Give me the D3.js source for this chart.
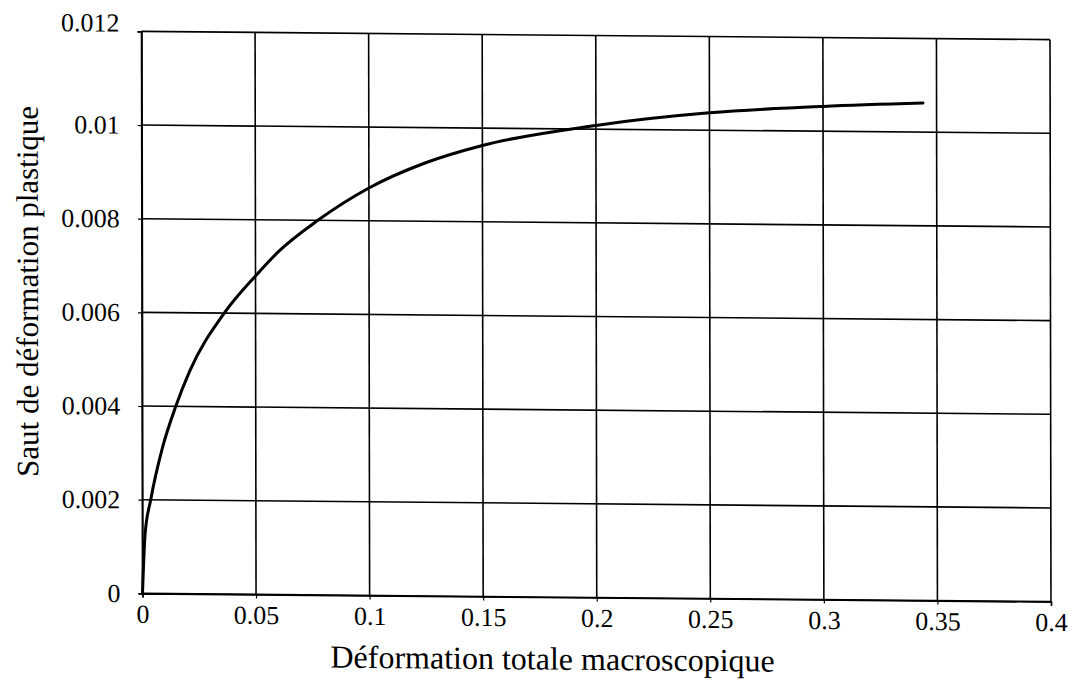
<!DOCTYPE html>
<html>
<head>
<meta charset="utf-8">
<script src="https://cdn.jsdelivr.net/npm/d3@7"></script>
<style>
  html, body { margin: 0; padding: 0; background: #fff; }
  svg { display: block; }
  text { font-family: "Liberation Serif", "Times New Roman", serif; fill: #000; }
</style>
</head>
<body>
<svg id="chart" width="1068" height="690"></svg>
<script>
// ---- Data ----
const xTickValues = [0, 0.05, 0.1, 0.15, 0.2, 0.25, 0.3, 0.35, 0.4];
const yTickValues = [0, 0.002, 0.004, 0.006, 0.008, 0.01, 0.012];
const xTickLabels = ["0", "0.05", "0.1", "0.15", "0.2", "0.25", "0.3", "0.35", "0.4"];
const yTickLabels = ["0", "0.002", "0.004", "0.006", "0.008", "0.01", "0.012"];
const totalStrain  = [0, 0.0012, 0.0037, 0.009, 0.0148, 0.021, 0.0362, 0.05, 0.0607, 0.0775, 0.1, 0.125, 0.15, 0.2, 0.25, 0.3, 0.344];
const plasticJump  = [0, 0.00127, 0.002, 0.00313, 0.004, 0.00476, 0.006, 0.0068, 0.00735, 0.008, 0.0087, 0.00925, 0.00963, 0.01008, 0.01037, 0.01053, 0.01062];
const xTitle = "Déformation totale macroscopique";
const yTitle = "Saut de déformation plastique";

// ---- Layout ----
const svg = d3.select("#chart");
const plot = { left: 142, right: 1050.5, top: 35.5, bottom: 597.5 };
const cx = (plot.left + plot.right) / 2, cy = (plot.top + plot.bottom) / 2;

const root = svg.append("g")
  .attr("transform", `translate(${cx},${cy}) skewY(0.62) rotate(-0.1) translate(${-cx},${-cy})`);

const x = d3.scaleLinear().domain([0, 0.4]).range([plot.left, plot.right]);
const y = d3.scaleLinear().domain([0, 0.012]).range([plot.bottom, plot.top]);

// Grid lines
root.append("g").selectAll("line.v").data(xTickValues).join("line")
  .attr("x1", d => x(d)).attr("x2", d => x(d))
  .attr("y1", plot.top).attr("y2", plot.bottom)
  .attr("stroke", "#000").attr("stroke-width", 1.6);
root.append("g").selectAll("line.h").data(yTickValues).join("line")
  .attr("x1", plot.left).attr("x2", plot.right)
  .attr("y1", d => y(d)).attr("y2", d => y(d))
  .attr("stroke", "#000").attr("stroke-width", 1.6);

// Axes (ticks + labels)
const xAxis = d3.axisBottom(x).tickValues(xTickValues)
  .tickFormat((d, i) => xTickLabels[i]).tickSize(4).tickPadding(7);
const yAxis = d3.axisLeft(y).tickValues(yTickValues)
  .tickFormat((d, i) => yTickLabels[i]).tickSize(4).tickPadding(18);

const gx = root.append("g").attr("transform", `translate(0,${plot.bottom})`).call(xAxis);
const gy = root.append("g").attr("transform", `translate(${plot.left},0)`).call(yAxis);
[gx, gy].forEach(g => {
  g.select(".domain").attr("stroke", "#000").attr("stroke-width", 1.6);
  g.selectAll(".tick line").attr("stroke", "#000").attr("stroke-width", 1.2);
  g.selectAll(".tick text").style("font-size", "26px")
    .style("font-family", '"Liberation Serif", "Times New Roman", serif');
});
// top label sits slightly higher in the reference
gy.selectAll(".tick").filter(d => d === 0.012).select("text").attr("dy", "0.0em");

// Curve
const pts = totalStrain.map((v, i) => [v, plasticJump[i]]);
root.append("path")
  .datum(pts)
  .attr("fill", "none").attr("stroke", "#000").attr("stroke-width", 3)
  .attr("stroke-linejoin", "round").attr("stroke-linecap", "round")
  .attr("d", d3.line().x(d => x(d[0])).y(d => y(d[1])).curve(d3.curveMonotoneX));

// Axis titles
root.append("text")
  .attr("x", 552).attr("y", 670)
  .attr("text-anchor", "middle")
  .style("font-size", "32px")
  .text(xTitle);
root.append("text")
  .attr("transform", `translate(38,${cy - 20}) rotate(-90)`)
  .attr("text-anchor", "middle")
  .style("font-size", "31px")
  .text(yTitle);
</script>
</body>
</html>
